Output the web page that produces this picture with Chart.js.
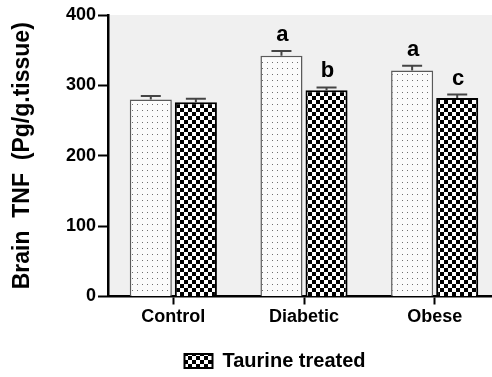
<!DOCTYPE html>
<html>
<head>
<meta charset="utf-8">
<script src="https://cdn.jsdelivr.net/npm/chart.js@4"></script>
<style>
    html, body { margin: 0; padding: 0; background: #fff; }
    .wrap { width: 492px; height: 377px; overflow: hidden; }
</style>
</head>
<body>
<div class="wrap">
    <canvas id="tnfChart" width="500" height="381"></canvas>
</div>
<script>
// 数据
const categories = ['Control', 'Diabetic', 'Obese'];
const untreatedValues = [280, 342, 321];
const untreatedErrors = [5, 7, 7];
const treatedValues = [276, 293, 282];
const treatedErrors = [5, 4, 5];
const untreatedLetters = ['', 'a', 'a'];
const treatedLetters = ['', 'b', 'c'];
const yTicks = [0, 100, 200, 300, 400];

const fontFamily = "'Liberation Sans', Arial, sans-serif";

// 点状填充
function dotPattern() {
    const c = document.createElement('canvas');
    c.width = 5;
    c.height = 6;
    const ctx = c.getContext('2d');
    ctx.fillStyle = '#fbfbfb';
    ctx.fillRect(0, 0, 5, 6);
    ctx.fillStyle = '#6f6f6f';
    ctx.fillRect(2, 2, 1, 1);
    return ctx.createPattern(c, 'repeat');
}

// 棋盘格填充
function checkerPattern() {
    const c = document.createElement('canvas');
    c.width = 8;
    c.height = 8;
    const ctx = c.getContext('2d');
    ctx.fillStyle = '#ffffff';
    ctx.fillRect(0, 0, 8, 8);
    ctx.fillStyle = '#000000';
    ctx.fillRect(0, 0, 4, 4);
    ctx.fillRect(4, 4, 4, 4);
    return ctx.createPattern(c, 'repeat');
}

// 灰色绘图区背景
const plotBackground = {
    id: 'plotBackground',
    beforeDraw(chart) {
        const { ctx, chartArea } = chart;
        ctx.save();
        ctx.fillStyle = '#f0f0f0';
        ctx.fillRect(chartArea.left, chartArea.top, chartArea.right - chartArea.left, chartArea.bottom - chartArea.top);
        ctx.restore();
    }
};

// 误差线和显著性字母
const errorBars = {
    id: 'errorBars',
    afterDatasetsDraw(chart) {
        const { ctx } = chart;
        const yScale = chart.scales.y;
        chart.data.datasets.forEach((ds, i) => {
            const meta = chart.getDatasetMeta(i);
            meta.data.forEach((bar, j) => {
                const top = yScale.getPixelForValue(ds.data[j] + ds.errors[j]);
                ctx.save();
                ctx.strokeStyle = '#444';
                ctx.lineWidth = 2;
                ctx.beginPath();
                ctx.moveTo(bar.x, bar.y);
                ctx.lineTo(bar.x, top);
                ctx.moveTo(bar.x - 10, top);
                ctx.lineTo(bar.x + 10, top);
                ctx.stroke();
                if (ds.letters[j]) {
                    ctx.fillStyle = '#000';
                    ctx.font = 'bold 22px ' + fontFamily;
                    ctx.textAlign = 'center';
                    ctx.textBaseline = 'alphabetic';
                    ctx.fillText(ds.letters[j], bar.x + 1, top - 10);
                }
                ctx.restore();
            });
        });
    }
};

// 图例水平位置微调
const legendShift = {
    id: 'legendShift',
    afterLayout(chart) {
        chart.legend.left += 50;
    }
};

new Chart(document.getElementById('tnfChart'), {
    type: 'bar',
    data: {
        labels: categories,
        datasets: [{
            label: 'Untreated',
            data: untreatedValues,
            errors: untreatedErrors,
            letters: untreatedLetters,
            backgroundColor: dotPattern(),
            borderColor: '#5a5a5a',
            borderWidth: 1.5,
            borderSkipped: 'start',
            categoryPercentage: 0.69,
            barPercentage: 0.933
        }, {
            label: 'Taurine treated',
            data: treatedValues,
            errors: treatedErrors,
            letters: treatedLetters,
            backgroundColor: checkerPattern(),
            borderColor: '#000',
            borderWidth: 2,
            borderSkipped: 'start',
            categoryPercentage: 0.69,
            barPercentage: 0.933
        }]
    },
    options: {
        responsive: false,
        animation: false,
        layout: {
            padding: { top: 15, right: 0, bottom: 0, left: 0 }
        },
        plugins: {
            tooltip: { enabled: false },
            legend: {
                position: 'bottom',
                labels: {
                    boxWidth: 28,
                    boxHeight: 14,
                    padding: 10,
                    color: '#000',
                    font: { family: fontFamily, size: 20, weight: 'bold' },
                    filter: item => item.datasetIndex === 1
                }
            }
        },
        scales: {
            x: {
                offset: true,
                afterFit: scale => { scale.height = 44.5; },
                grid: {
                    offset: false,
                    drawOnChartArea: false,
                    tickLength: 8,
                    tickWidth: 2,
                    tickColor: '#000'
                },
                border: { color: '#000', width: 2.5 },
                ticks: {
                    padding: 2,
                    color: '#000',
                    font: { family: fontFamily, size: 18, weight: 'bold' }
                }
            },
            y: {
                min: 0,
                max: 400,
                afterFit: scale => { scale.width = 108; },
                afterBuildTicks: scale => { scale.ticks = yTicks.map(v => ({ value: v })); },
                grid: {
                    drawOnChartArea: false,
                    tickLength: 10,
                    tickWidth: 2,
                    tickColor: '#000'
                },
                border: { color: '#000', width: 2.5 },
                ticks: {
                    padding: 2,
                    color: '#000',
                    font: { family: fontFamily, size: 18, weight: 'bold' }
                },
                title: {
                    display: true,
                    text: 'Brain  TNF  (Pg/g.tissue)',
                    color: '#000',
                    padding: { top: 9, bottom: 0 },
                    font: { family: fontFamily, size: 23, weight: 'bold' }
                }
            }
        }
    },
    plugins: [plotBackground, errorBars, legendShift]
});
</script>
</body>
</html>
